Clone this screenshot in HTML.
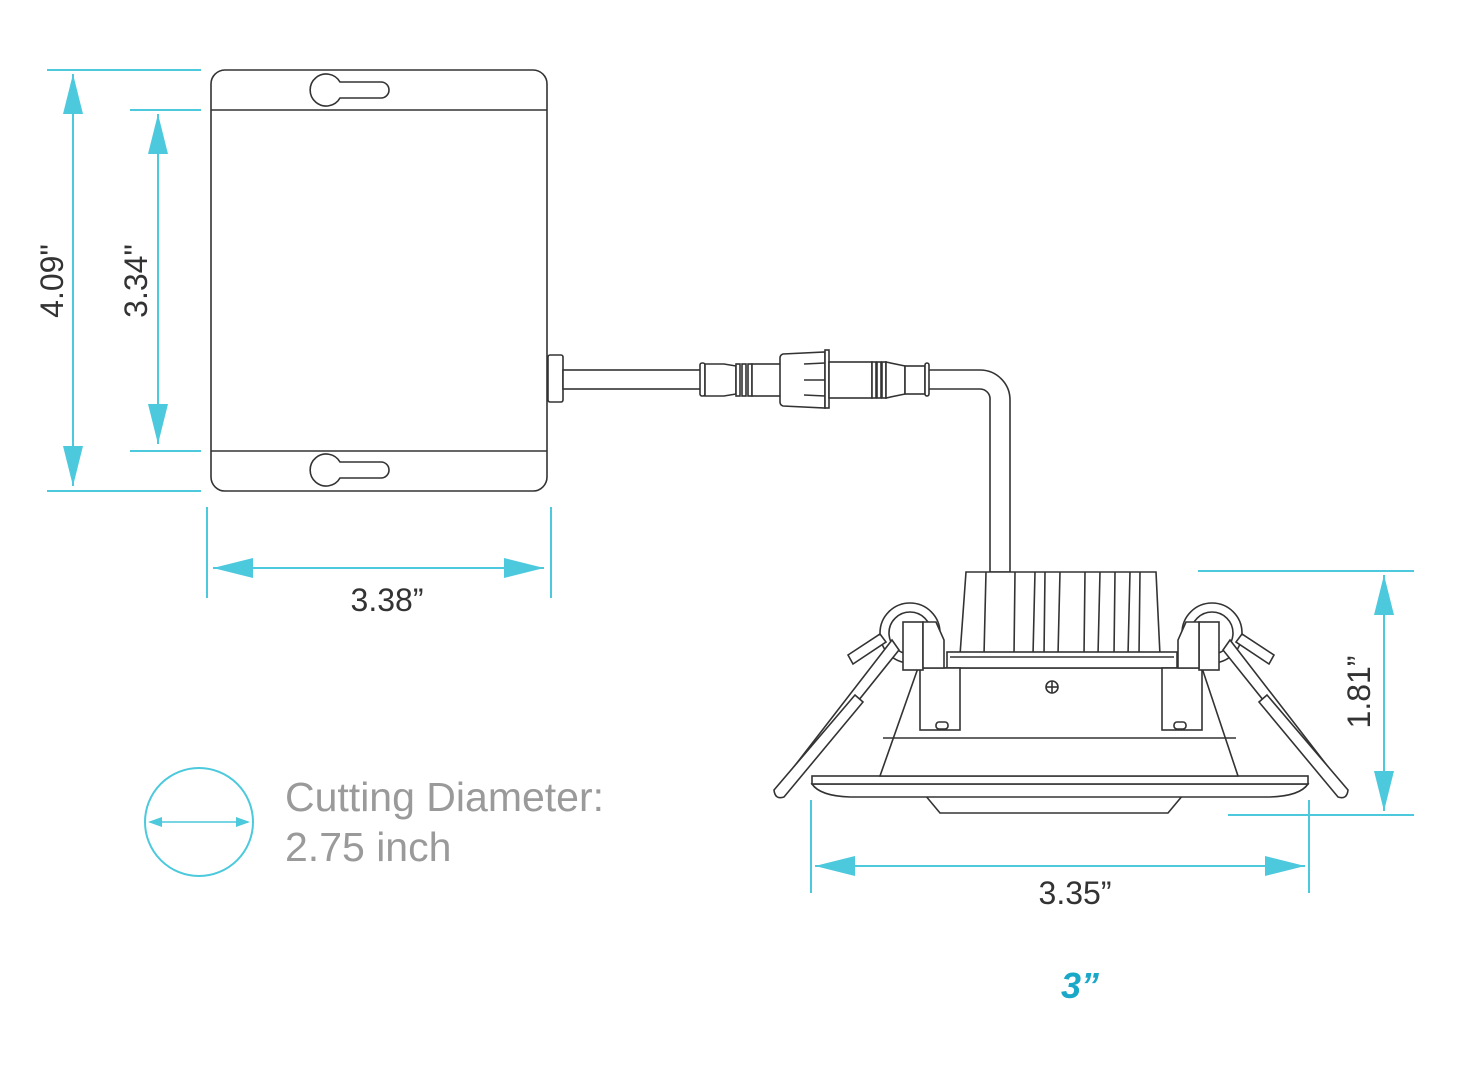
<!DOCTYPE html>
<html><head><meta charset="utf-8"><style>
html,body{margin:0;padding:0;background:#fff;}
svg{display:block;}
text{font-family:"Liberation Sans",sans-serif;}
</style></head><body>
<svg width="1458" height="1089" viewBox="0 0 1458 1089" xmlns="http://www.w3.org/2000/svg">
<defs>
<marker id="a" viewBox="0 0 40 20" refX="40" refY="10" markerWidth="40" markerHeight="20" markerUnits="userSpaceOnUse" orient="auto-start-reverse"><path d="M40,10 L0,0 L0,20 Z" fill="#4cc9dc"/></marker>
</defs>
<g stroke="#4cc9dc" stroke-width="2" fill="none">
<line x1="47" y1="70" x2="201" y2="70"/><line x1="47" y1="491" x2="201" y2="491"/>
<line x1="73" y1="74" x2="73" y2="486" marker-start="url(#a)" marker-end="url(#a)"/>
<line x1="130" y1="110" x2="201" y2="110"/><line x1="130" y1="451" x2="201" y2="451"/>
<line x1="158" y1="114" x2="158" y2="444" marker-start="url(#a)" marker-end="url(#a)"/>
<line x1="207" y1="507" x2="207" y2="598"/><line x1="551" y1="507" x2="551" y2="598"/>
<line x1="213" y1="568" x2="544" y2="568" marker-start="url(#a)" marker-end="url(#a)"/>
<line x1="1198" y1="571" x2="1414" y2="571"/><line x1="1228" y1="815" x2="1414" y2="815"/>
<line x1="1384" y1="575" x2="1384" y2="811" marker-start="url(#a)" marker-end="url(#a)"/>
<line x1="811" y1="800" x2="811" y2="893"/><line x1="1309" y1="800" x2="1309" y2="893"/>
<line x1="815" y1="866" x2="1305" y2="866" marker-start="url(#a)" marker-end="url(#a)"/>
<circle cx="199" cy="822" r="54"/>
</g>
<line x1="150" y1="822" x2="248" y2="822" stroke="#4cc9dc" stroke-width="1.5"/>
<path d="M148,822 l14,-5 v10z M250,822 l-14,-5 v10z" fill="#4cc9dc"/>

<g fill="#333" font-size="32">
<text transform="translate(63,281) rotate(-90)" text-anchor="middle">4.09"</text>
<text transform="translate(147,281) rotate(-90)" text-anchor="middle">3.34"</text>
<text transform="translate(1370,692) rotate(-90)" text-anchor="middle">1.81”</text>
<text x="387" y="611" text-anchor="middle">3.38”</text>
<text x="1075" y="904" text-anchor="middle">3.35”</text>
</g>
<text x="285" y="811" font-size="41" fill="#9a9a9a">Cutting Diameter:</text>
<text x="285" y="861" font-size="41" fill="#9a9a9a">2.75 inch</text>
<text x="1080" y="998" font-size="36" font-weight="bold" font-style="italic" fill="#1aa8c8" text-anchor="middle">3”</text>

<g stroke="#333" stroke-width="1.6" fill="#fff">
<rect x="211" y="70" width="336" height="421" rx="14"/>
<line x1="211" y1="110" x2="547" y2="110"/><line x1="211" y1="451" x2="547" y2="451"/>
<path d="M340,82 H381 A8,8 0 0 1 381,98 H340 A16,16 0 1 1 340,82 Z"/>
<path d="M340,462 H381 A8,8 0 0 1 381,478 H340 A16,16 0 1 1 340,462 Z"/>
<rect x="548" y="355" width="15" height="47" rx="2"/>
<rect x="563" y="370" width="140" height="19"/>
<path d="M928,370 H980 A30,30 0 0 1 1010,400 V572 H990 V400 A10,10 0 0 0 980,389 H928 Z"/>
<rect x="700" y="363" width="5" height="33" rx="2"/>
<path d="M705,364 H724 L736,366 V394 L724,396 H705 Z"/>
<rect x="736" y="364" width="4" height="32"/><rect x="742" y="364" width="4" height="32"/><rect x="748" y="364" width="4" height="32"/>
<rect x="752" y="364" width="30" height="32"/>
<path d="M783,354 L825,352 V408 L783,406 Q780,405 780,402 V358 Q780,355 783,354 Z"/>
<rect x="825" y="350" width="4" height="58"/>
<line x1="804" y1="364" x2="825" y2="363"/><line x1="804" y1="380" x2="825" y2="380"/><line x1="804" y1="395" x2="825" y2="396"/>
<rect x="829" y="362" width="43" height="36"/>
<rect x="872" y="362" width="4" height="36"/><rect x="877" y="362" width="4" height="36"/><rect x="882" y="362" width="4" height="36"/>
<path d="M886,362 L905,366 V394 L886,398 Z"/>
<rect x="905" y="366" width="20" height="28"/>
<rect x="925" y="363" width="4" height="33" rx="2"/>
<path d="M966,572 H1156 L1160,655 H960 Z"/>
<g fill="none">
<line x1="986" y1="572" x2="984" y2="655"/><line x1="1015" y1="572" x2="1014" y2="655"/><line x1="1035" y1="572" x2="1033" y2="655"/>
<line x1="1045" y1="572" x2="1044" y2="655"/><line x1="1060" y1="572" x2="1058" y2="655"/><line x1="1085" y1="572" x2="1084" y2="655"/>
<line x1="1100" y1="572" x2="1098" y2="655"/><line x1="1115" y1="572" x2="1114" y2="655"/><line x1="1130" y1="572" x2="1128" y2="655"/>
<line x1="1140" y1="572" x2="1139" y2="655"/>
</g>
<path d="M925,795 L940,813 H1168 L1183,795 Z"/>
<path d="M812,784 H1308 Q1300,796 1270,797 H850 Q820,796 812,784 Z"/>
<rect x="812" y="776" width="496" height="8"/>
<path d="M918,668 H1202 L1238,776 H880 Z"/>
<line x1="883" y1="738" x2="1236" y2="738"/>
<rect x="947" y="652" width="230" height="16"/>
<line x1="950" y1="657" x2="1174" y2="657"/>
<circle cx="1052" cy="687" r="6" fill="none"/><line x1="1046" y1="687" x2="1058" y2="687"/><line x1="1052" y1="681" x2="1052" y2="693"/>
<rect x="920" y="668" width="40" height="62"/><rect x="1162" y="668" width="40" height="62"/>
<rect x="936" y="722" width="12" height="7" rx="3"/><rect x="1174" y="722" width="12" height="7" rx="3"/>
<circle cx="910" cy="633" r="30" fill="none"/><circle cx="910" cy="633" r="21" fill="none"/>
<path d="M848,655 L880,634 L886,642 L853,664 Z"/>
<path d="M892,640 L776,790 L781,797 L899,650 Z"/>
<path d="M855,695 L774,790 Q775,800 784,797 L863,702 Z"/>
<rect x="903" y="622" width="20" height="48"/><path d="M923,622 H936 L944,640 V668 H923 Z"/>
<circle cx="1212" cy="633" r="30" fill="none"/><circle cx="1212" cy="633" r="21" fill="none"/>
<path d="M1274,655 L1242,634 L1236,642 L1269,664 Z"/>
<path d="M1230,640 L1346,790 L1341,797 L1223,650 Z"/>
<path d="M1267,695 L1348,790 Q1347,800 1338,797 L1259,702 Z"/>
<rect x="1199" y="622" width="20" height="48"/><path d="M1199,622 H1186 L1178,640 V668 H1199 Z"/>
</g>
</svg>
</body></html>
